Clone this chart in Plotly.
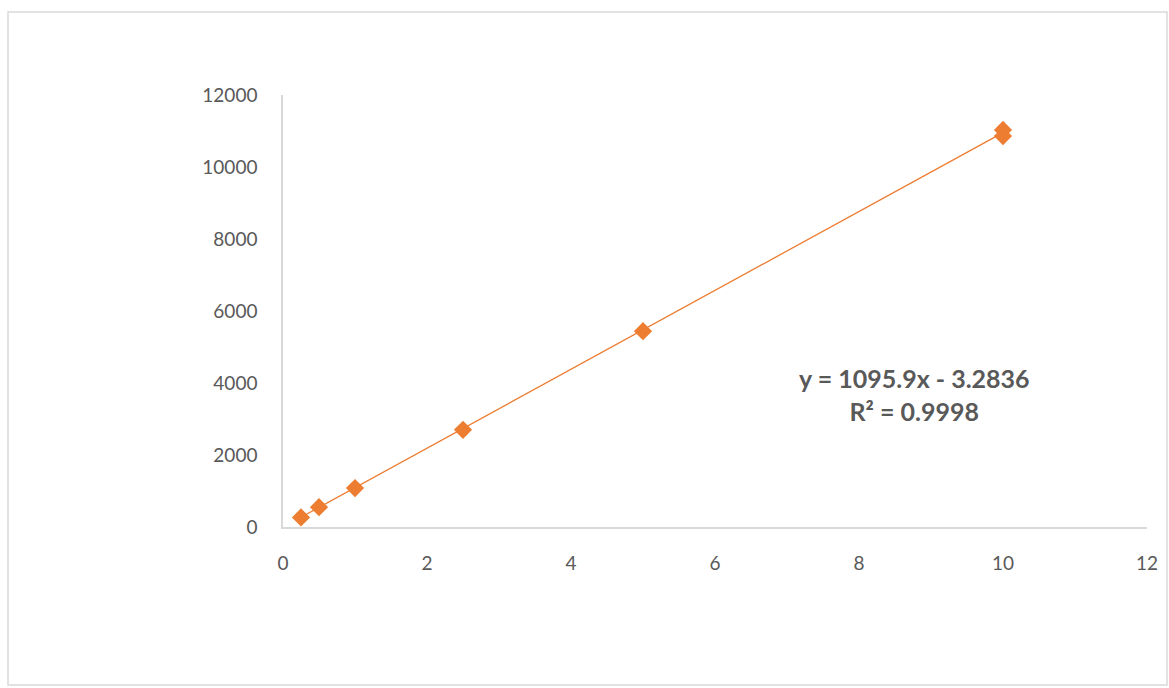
import plotly.graph_objects as go

# Calibration data: concentration vs. signal
concentration = [0.25, 0.5, 1, 2.5, 5, 10, 10]
signal = [265, 550, 1080, 2700, 5440, 10860, 11030]

# Linear trendline parameters
slope = 1095.9
intercept = -3.2836
r_squared = 0.9998

x_ticks = [0, 2, 4, 6, 8, 10, 12]
y_ticks = [0, 2000, 4000, 6000, 8000, 10000, 12000]

orange = "#ED7D31"
label_grey = "#595959"
axis_grey = "#D9D9D9"

trend_x = [min(concentration), max(concentration)]
trend_y = [slope * x + intercept for x in trend_x]

fig = go.Figure()
fig.add_trace(go.Scatter(
    x=trend_x, y=trend_y, mode="lines",
    line=dict(color=orange, width=1.3),
    hoverinfo="skip", showlegend=False,
))
fig.add_trace(go.Scatter(
    x=concentration, y=signal, mode="markers",
    marker=dict(symbol="diamond", size=14, color=orange,
                line=dict(width=0)),
    showlegend=False,
))

fig.add_annotation(
    x=0.731, y=0.307, xref="paper", yref="paper",
    xanchor="center", yanchor="middle",
    text=(f"<b>y = {slope}x - {abs(intercept)}</b><br>"
          f"<b>R² = {r_squared}</b>"),
    showarrow=False, align="center",
    font=dict(family="Lato, 'Open Sans', sans-serif", size=25, color=label_grey),
)

# Outer chart border
fig.add_shape(
    type="rect", xref="paper", yref="paper",
    x0=(8 - 283) / 864, x1=(1167 - 283) / 864,
    y0=(527 - 685) / 432, y1=(527 - 12) / 432,
    line=dict(color="#D9D9D9", width=1.5), fillcolor="rgba(0,0,0,0)",
    layer="below",
)

tick_font = dict(family="Lato, 'Open Sans', sans-serif", size=19, color=label_grey)

fig.update_layout(
    width=1169, height=688,
    margin=dict(l=283, r=22, t=95, b=161),
    paper_bgcolor="white", plot_bgcolor="white",
    xaxis=dict(
        range=[0, 12], tickvals=x_ticks, ticktext=[str(t) for t in x_ticks],
        showgrid=False, zeroline=False,
        showline=True, linecolor=axis_grey, linewidth=1.5,
        ticks="outside", ticklen=18, tickcolor="rgba(0,0,0,0)",
        tickfont=tick_font,
    ),
    yaxis=dict(
        range=[0, 12000], tickvals=y_ticks, ticktext=[str(t) for t in y_ticks],
        showgrid=False, zeroline=False,
        showline=True, linecolor=axis_grey, linewidth=1.5,
        ticks="outside", ticklen=20, tickcolor="rgba(0,0,0,0)",
        tickfont=tick_font,
    ),
)

fig.write_html("out.html")
